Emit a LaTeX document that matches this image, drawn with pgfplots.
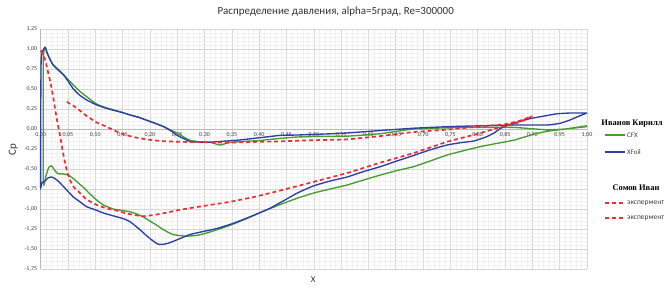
\documentclass[border=0pt]{standalone}
\usepackage{fontspec}
\setmainfont{Carlito}
\newfontfamily\headfont{Liberation Serif}
\usepackage{pgfplots}
\pgfplotsset{compat=1.18}
\definecolor{cfx}{RGB}{72,156,48}
\definecolor{xf}{RGB}{45,62,168}
\definecolor{exr}{RGB}{236,45,52}
\begin{document}
\begin{tikzpicture}
\path[use as bounding box] (-40.6bp,-20bp) rectangle (627.4bp,269bp);
\begin{axis}[
  at={(0,0)}, anchor=south west, scale only axis,
  width=546.4bp, height=240bp,
  xmin=0, xmax=1, ymin=-1.75, ymax=1.25,
  axis x line=middle, axis y line=left,
  hide obscured x ticks=false, hide obscured y ticks=false,
  axis line style={-, gray!55, line width=0.6bp},
  xtick={0,0.05,0.1,0.15,0.2,0.25,0.3,0.35,0.4,0.45,0.5,0.55,0.6,0.65,0.7,0.75,0.8,0.85,0.9,0.95,1},
  ytick={-1.75,-1.5,-1.25,-1,-0.75,-0.5,-0.25,0,0.25,0.5,0.75,1,1.25},
  minor x tick num=4, minor y tick num=4,
  major tick length=0pt, minor tick length=0pt,
  grid=both,
  major grid style={gray!32, line width=0.6bp},
  minor grid style={gray!12, line width=0.4bp},
  ticklabel style={font=\fontsize{6}{7}\selectfont, text=black!75},
  x tick label style={/pgf/number format/.cd, fixed, fixed zerofill, precision=2, use comma, assume math mode=true},
  y tick label style={/pgf/number format/.cd, fixed, fixed zerofill, precision=2, use comma, assume math mode=true},
  clip=false,
]
% CFX
\addplot[cfx, line width=1.35bp, smooth, tension=0.3] coordinates {
(1.00,0.04)(0.96,0.0)(0.926,-0.03)(0.90,-0.07)(0.866,-0.14)(0.835,-0.18)(0.805,-0.22)(0.775,-0.27)
(0.744,-0.325)(0.713,-0.40)(0.683,-0.47)(0.652,-0.52)(0.622,-0.575)(0.59,-0.64)(0.561,-0.70)
(0.53,-0.75)(0.50,-0.80)(0.47,-0.865)(0.44,-0.94)(0.42,-0.995)(0.40,-1.05)(0.377,-1.12)(0.35,-1.195)
(0.316,-1.275)(0.29,-1.325)(0.267,-1.34)(0.243,-1.32)(0.225,-1.26)(0.212,-1.20)(0.20,-1.15)
(0.188,-1.10)(0.175,-1.06)(0.164,-1.035)(0.15,-1.02)(0.133,-1.00)(0.115,-0.95)(0.103,-0.89)
(0.09,-0.81)(0.08,-0.74)(0.07,-0.68)(0.06,-0.62)(0.05,-0.575)(0.04,-0.56)(0.032,-0.56)
(0.026,-0.52)(0.02,-0.46)(0.015,-0.48)(0.01,-0.58)(0.005,-0.66)(0.005,0.85)(0.008,1.02)
(0.012,0.95)(0.018,0.86)(0.023,0.80)(0.03,0.76)(0.042,0.68)(0.05,0.62)(0.06,0.55)(0.072,0.47)
(0.085,0.40)(0.103,0.31)(0.12,0.265)(0.133,0.24)(0.15,0.205)(0.164,0.175)(0.18,0.145)(0.194,0.11)
(0.21,0.07)(0.225,0.03)(0.24,-0.02)(0.25,-0.05)(0.262,-0.10)(0.273,-0.14)(0.29,-0.16)(0.31,-0.165)
(0.328,-0.20)(0.345,-0.17)(0.37,-0.155)(0.40,-0.145)(0.42,-0.13)(0.47,-0.10)(0.53,-0.09)
(0.56,-0.09)(0.62,-0.06)(0.683,0.0)(0.75,0.015)(0.805,0.02)(0.866,0.02)(0.926,-0.01)(0.96,0.0)(1.0,0.03)
};
% XFoil
\addplot[xf, line width=1.35bp, smooth, tension=0.3] coordinates {
(1.00,0.20)(0.97,0.20)(0.945,0.19)(0.92,0.16)(0.896,0.13)(0.875,0.09)(0.855,0.05)(0.84,0.0)
(0.83,-0.05)(0.815,-0.10)(0.793,-0.15)(0.77,-0.17)(0.744,-0.20)(0.713,-0.26)(0.683,-0.33)
(0.652,-0.40)(0.622,-0.47)(0.59,-0.535)(0.561,-0.60)(0.53,-0.65)(0.50,-0.71)(0.47,-0.80)
(0.44,-0.915)(0.42,-0.99)(0.40,-1.05)(0.377,-1.115)(0.35,-1.185)(0.322,-1.245)(0.295,-1.285)
(0.273,-1.32)(0.255,-1.37)(0.237,-1.42)(0.226,-1.44)(0.215,-1.44)(0.206,-1.40)(0.195,-1.34)
(0.182,-1.26)(0.164,-1.16)(0.151,-1.12)(0.13,-1.08)(0.115,-1.05)(0.10,-1.01)(0.084,-0.97)
(0.07,-0.90)(0.06,-0.85)(0.05,-0.78)(0.042,-0.72)(0.032,-0.65)(0.025,-0.615)(0.02,-0.60)
(0.014,-0.61)(0.008,-0.65)(0.002,-0.675)(0.0,-0.68)(0.001,0.85)(0.008,1.02)
(0.012,0.95)(0.018,0.86)(0.023,0.80)(0.03,0.75)(0.042,0.675)(0.05,0.60)(0.06,0.50)(0.072,0.42)
(0.085,0.36)(0.103,0.30)(0.12,0.26)(0.133,0.235)(0.15,0.205)(0.164,0.175)(0.18,0.145)(0.194,0.11)
(0.21,0.07)(0.225,0.03)(0.24,-0.03)(0.25,-0.08)(0.262,-0.12)(0.273,-0.155)(0.29,-0.165)
(0.31,-0.165)(0.33,-0.155)(0.36,-0.14)(0.40,-0.11)(0.438,-0.08)(0.47,-0.075)(0.53,-0.06)
(0.56,-0.05)(0.62,-0.02)(0.683,0.01)(0.75,0.03)(0.805,0.04)(0.866,0.05)(0.926,0.05)(0.95,0.07)
(0.968,0.11)(0.985,0.16)(1.0,0.20)
};
% experiment 1
\addplot[exr, line width=1.7bp, dash pattern=on 4bp off 3bp, smooth, tension=0.3] coordinates {
(0.0,0.98)(0.005,0.93)(0.01,0.82)(0.014,0.70)(0.019,0.55)(0.023,0.40)(0.029,0.15)(0.036,-0.10)
(0.042,-0.33)(0.048,-0.52)(0.054,-0.64)(0.06,-0.72)(0.072,-0.80)(0.084,-0.88)(0.103,-0.95)
(0.12,-0.99)(0.139,-1.02)(0.16,-1.06)(0.188,-1.09)(0.22,-1.06)(0.255,-1.01)(0.30,-0.96)
(0.347,-0.91)(0.39,-0.85)(0.438,-0.77)(0.50,-0.66)(0.561,-0.55)(0.622,-0.42)(0.683,-0.30)
(0.744,-0.16)(0.80,-0.06)(0.84,0.02)(0.87,0.07)(0.90,0.16)
};
% experiment 2
\addplot[exr, line width=1.7bp, dash pattern=on 4bp off 3bp, smooth, tension=0.3] coordinates {
(0.048,0.34)(0.06,0.29)(0.072,0.23)(0.085,0.16)(0.103,0.08)(0.12,0.03)(0.145,-0.05)(0.17,-0.10)
(0.194,-0.13)(0.22,-0.15)(0.255,-0.16)(0.30,-0.165)(0.347,-0.17)(0.40,-0.16)(0.438,-0.155)
(0.50,-0.14)(0.56,-0.13)(0.62,-0.09)(0.68,-0.04)(0.74,-0.01)(0.80,0.03)(0.85,0.06)(0.875,0.10)(0.90,0.16)
};
% legend
\draw[cfx, line width=1.3bp] (axis description cs:1.0329,0.5583) -- ++(20bp,0pt);
\draw[xf, line width=1.3bp] (axis description cs:1.0329,0.4875) -- ++(20bp,0pt);
\draw[exr, line width=1.7bp, dash pattern=on 4bp off 3bp] (axis description cs:1.0329,0.275) -- ++(20bp,0pt);
\draw[exr, line width=1.7bp, dash pattern=on 4bp off 3bp] (axis description cs:1.0329,0.2125) -- ++(20bp,0pt);
\node[anchor=west, inner sep=0pt, font=\fontsize{7}{8}\selectfont, text=black!75] at (axis description cs:1.0732,0.5583) {CFX};
\node[anchor=west, inner sep=0pt, font=\fontsize{7}{8}\selectfont, text=black!75] at (axis description cs:1.0732,0.4875) {XFoil};
\node[anchor=west, inner sep=0pt, font=\fontsize{7.5}{8}\selectfont, text=black!75] at (axis description cs:1.0732,0.275) {экспермент};
\node[anchor=west, inner sep=0pt, font=\fontsize{7.5}{8}\selectfont, text=black!75] at (axis description cs:1.0732,0.2125) {экспермент};
\node[font=\fontsize{11}{12}\selectfont, text=black!80] at (axis description cs:0.54,1.071) {Распределение давления, alpha=5град, Re=300000};
\node[rotate=90, font=\fontsize{11}{12}\selectfont, text=black!80] at (axis description cs:-0.05,0.496) {Cp};
\node[font=\fontsize{9}{10}\selectfont, text=black!80] at (axis description cs:0.499,-0.046) {X};
\node[font=\headfont\bfseries\fontsize{8.5}{10}\selectfont] at (axis description cs:1.0824,0.6075) {Иванов Кирилл};
\node[font=\headfont\bfseries\fontsize{8.5}{10}\selectfont] at (axis description cs:1.0897,0.3375) {Сомов Иван};
\end{axis}
\end{tikzpicture}
\end{document}
